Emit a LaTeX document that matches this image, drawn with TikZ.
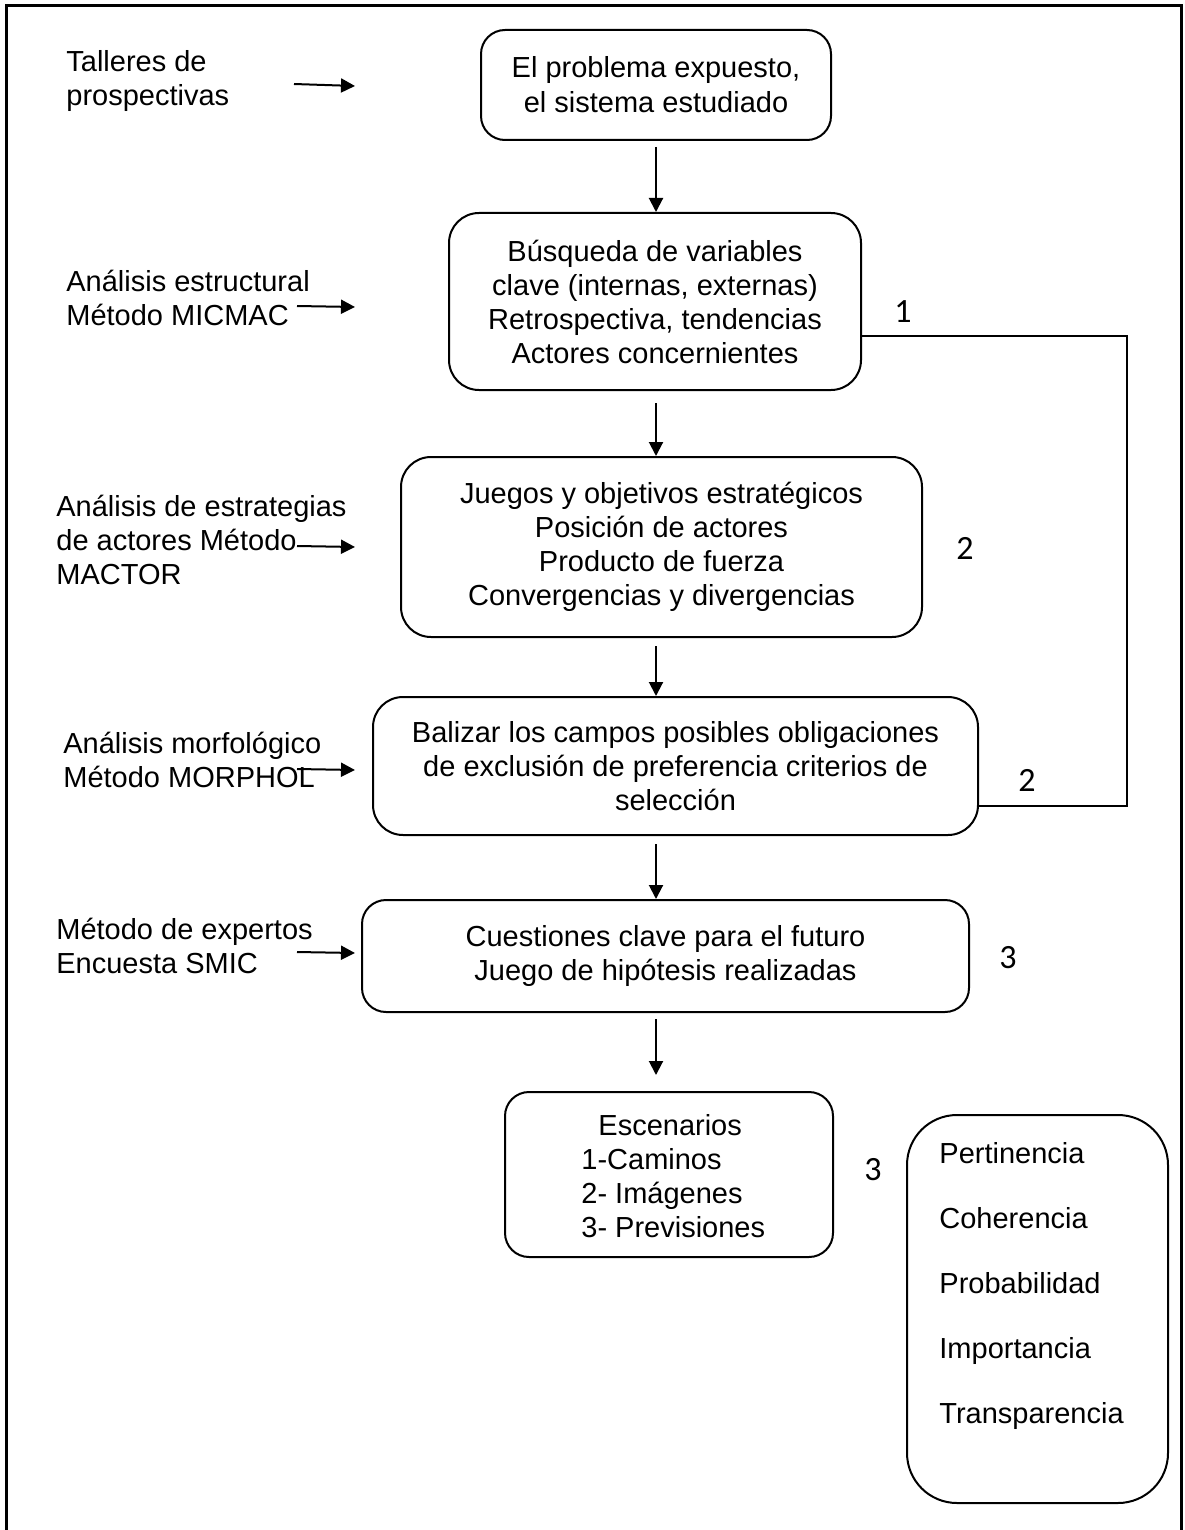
\documentclass[tikz,border=0pt]{standalone}
\usepackage{fontspec}
\setmainfont{Liberation Sans}
\newfontfamily\numfont{Carlito}
\usetikzlibrary{arrows.meta}
\begin{document}
\begin{tikzpicture}[x=0.5pt,y=-0.5pt,
  txt/.style={font=\fontsize{14.5}{17}\selectfont},
  box/.style={txt, draw, line width=1pt, rounded corners=12pt, align=center, inner sep=0pt},
  lbl/.style={txt, align=left, anchor=north west, inner sep=0pt},
  num/.style={font=\numfont\fontsize{17}{20}\selectfont, inner sep=0pt},
  arr/.style={line width=1pt, -{Triangle[length=7pt,width=7pt]}},
  link/.style={line width=1pt}
]
% page area and outer frame (open at the bottom)
\useasboundingbox (0,0) rectangle (1184,1530);
\draw[line width=1.5pt] (6,1530) -- (6,6) -- (1181,6) -- (1181,1530);

% main chain of steps
\node[box, font=\fontsize{14.5}{17.5}\selectfont, minimum width=175pt, minimum height=55pt] (b1) at (656,85)
  {El problema expuesto,\\el sistema estudiado};
\node[box, rounded corners=15pt, minimum width=206pt, minimum height=88.5pt] (b2) at (655,301.5)
  {Búsqueda de variables\\clave (internas, externas)\\Retrospectiva, tendencias\\Actores concernientes};
\node[box, rounded corners=15pt, minimum width=260.5pt, minimum height=90pt] (b3) at (661.5,547)
  {Juegos y objetivos estratégicos\\Posición de actores\\Producto de fuerza\\Convergencias y divergencias};
\node[box, rounded corners=15pt, minimum width=302.5pt, minimum height=69pt] (b4) at (675.5,766)
  {Balizar los campos posibles obligaciones\\de exclusión de preferencia criterios de\\selección};
\node[box, minimum width=303.5pt, minimum height=56pt] (b5) at (665.5,956)
  {Cuestiones clave para el futuro\\Juego de hipótesis realizadas};
\node[box, minimum width=164pt, minimum height=82.5pt] (b6) at (669,1174.5) {};
\node[lbl] (b6t) at (581,1114)
  {\hspace*{8.5pt}Escenarios\\1-Caminos\\2- Imágenes\\3- Previsiones};
\node[box, rounded corners=25pt, minimum width=130.5pt, minimum height=194pt] (b7) at (1037.5,1309) {};
\node[lbl, font=\fontsize{14.5}{32.5}\selectfont] (b7t) at (939,1142)
  {Pertinencia\\Coherencia\\Probabilidad\\Importancia\\Transparencia};

% methods on the left
\node[lbl] (m1) at (66,50) {Talleres de\\prospectivas};
\node[lbl] (m2) at (66,270) {Análisis estructural\\Método MICMAC};
\node[lbl] (m3) at (56,495) {Análisis de estrategias\\de actores Método\\MACTOR};
\node[lbl] (m4) at (63,732) {Análisis morfológico\\Método MORPHOL};
\node[lbl] (m5) at (56,918) {Método de expertos\\Encuesta SMIC};

% side arrows
\coordinate (s1a) at (294,84);  \coordinate (s1b) at (355,86);
\coordinate (s2a) at (297,306); \coordinate (s2b) at (355,307);
\coordinate (s3a) at (297,546); \coordinate (s3b) at (355,547);
\coordinate (s4a) at (297,769); \coordinate (s4b) at (355,770);
\coordinate (s5a) at (297,952); \coordinate (s5b) at (355,953);
\foreach \i in {1,...,5} \draw[arr] (s\i a) -- (s\i b);

% vertical arrows between steps
\coordinate (ax) at (656,0);
\draw[arr, shorten <=3pt] (b1.south -| ax) -- (b2.north -| ax);
\draw[arr, shorten <=6pt] (b2.south -| ax) -- (b3.north -| ax);
\draw[arr, shorten <=4pt] (b3.south -| ax) -- (b4.north -| ax);
\draw[arr, shorten <=4pt] (b4.south -| ax) -- (b5.north -| ax);
\draw[arr, shorten <=3pt, shorten >=8pt] (b5.south -| ax) -- (b6.north -| ax);

% feedback loop on the right
\coordinate (f1) at (1127,336);
\coordinate (f2) at (1127,806);
\draw[link] (f1 -| b2.east) -- (f1) -- (f2) -- (f2 -| b4.east);

% step numbers
\node[num] (n1) at (903,312) {1};
\node[num] (n2) at (965,548) {2};
\node[num] (n3) at (1027,780) {2};
\node[num] (n4) at (1008,958) {3};
\node[num] (n5) at (873,1170) {3};
\end{tikzpicture}
\end{document}
